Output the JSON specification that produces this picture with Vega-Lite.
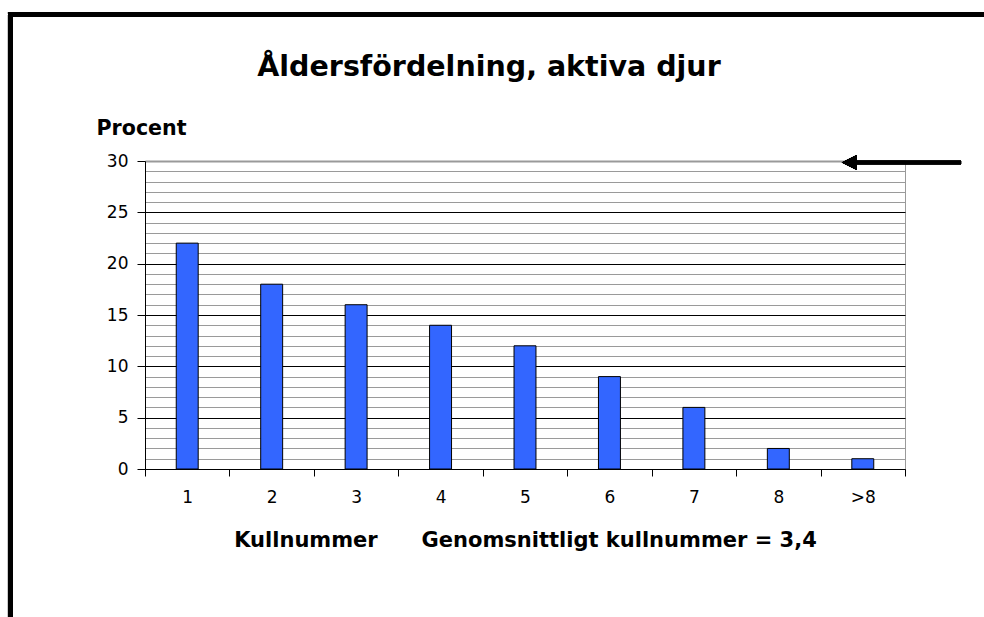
{
  "$schema": "https://vega.github.io/schema/vega-lite/v6.json",
  "width": 760,
  "height": 308,
  "autosize": {"type": "none"},
  "padding": {"left": 145, "top": 161, "right": 79, "bottom": 148},
  "background": "white",
  "title": {
    "text": "Åldersfördelning, aktiva djur",
    "font": "DejaVu Sans",
    "fontSize": 28.5,
    "fontWeight": "bold",
    "color": "black",
    "anchor": "middle",
    "frame": "group",
    "baseline": "alphabetic",
    "dx": -36,
    "offset": -93
  },
  "data": {
    "values": [
      {"kull": "1", "procent": 22},
      {"kull": "2", "procent": 18},
      {"kull": "3", "procent": 16},
      {"kull": "4", "procent": 14},
      {"kull": "5", "procent": 12},
      {"kull": "6", "procent": 9},
      {"kull": "7", "procent": 6},
      {"kull": "8", "procent": 2},
      {"kull": ">8", "procent": 1}
    ]
  },
  "layer": [
    {
      "mark": {"type": "bar", "width": {"band": 0.26}, "fill": "#3366FF", "stroke": "black", "strokeWidth": 1},
      "encoding": {
        "x": {
          "field": "kull",
          "type": "nominal",
          "sort": null,
          "scale": {"paddingInner": 0, "paddingOuter": 0},
          "axis": {
            "title": "Kullnummer\u00a0\u00a0\u00a0\u00a0\u00a0\u00a0Genomsnittligt kullnummer = 3,4",
            "titleFont": "DejaVu Sans",
            "titleFontSize": 21,
            "titleFontWeight": "bold",
            "titleColor": "black",
            "titlePadding": 24,
            "labelAngle": 0,
            "labelFont": "DejaVu Sans",
            "labelFontSize": 17,
            "labelColor": "black",
            "labelPadding": 13,
            "tickBand": "extent",
            "tickSize": 7,
            "tickColor": "black",
            "domainColor": "black",
            "grid": false
          }
        },
        "y": {
          "field": "procent",
          "type": "quantitative",
          "scale": {"domain": [0, 30], "nice": false},
          "axis": {
            "values": [0,1,2,3,4,5,6,7,8,9,10,11,12,13,14,15,16,17,18,19,20,21,22,23,24,25,26,27,28,29,30],
            "labelExpr": "datum.value % 5 === 0 ? datum.label : ''",
            "labelFont": "DejaVu Sans",
            "labelFontSize": 17,
            "labelColor": "black",
            "labelPadding": 9,
            "labelBaseline": "middle",
            "tickSize": 8,
            "tickColor": "black",
            "tickOpacity": {"condition": {"test": "datum.value % 5 === 0", "value": 1}, "value": 0},
            "domainColor": "black",
            "grid": true,
            "gridColor": {"condition": {"test": "datum.value % 5 === 0 && datum.value < 30", "value": "black"}, "value": "#9a9a9a"},
            "gridWidth": {"condition": {"test": "datum.value === 30", "value": 2}, "value": 1},
            "gridOpacity": 1,
            "title": "Procent",
            "titleAngle": 0,
            "titleAlign": "left",
            "titleBaseline": "alphabetic",
            "titleX": -49,
            "titleY": -27,
            "titleFont": "DejaVu Sans",
            "titleFontSize": 20.6,
            "titleFontWeight": "bold",
            "titleColor": "black"
          }
        }
      }
    },
    {
      "mark": {"type": "rect", "filled": false, "stroke": "black", "strokeWidth": 5, "clip": false},
      "encoding": {
        "x": {"datum": -1.593, "type": "quantitative", "scale": {"domain": [0, 9], "nice": false, "zero": false}, "axis": null},
        "x2": {"datum": 10.5},
        "y": {"datum": 44.27, "type": "quantitative", "scale": {"domain": [0, 30], "nice": false, "zero": false}, "axis": null},
        "y2": {"datum": -20}
      }
    },
    {
      "mark": {"type": "rule", "stroke": "black", "strokeWidth": 3.5, "clip": false},
      "encoding": {
        "x": {"datum": 8.34, "type": "quantitative", "scale": {"domain": [0, 9], "nice": false, "zero": false}, "axis": null},
        "x2": {"datum": 9.664},
        "y": {"datum": 29.85, "type": "quantitative", "scale": {"domain": [0, 30], "nice": false, "zero": false}, "axis": null}
      }
    },
    {
      "mark": {"type": "point", "shape": "M-1,0L1,-1L1,1Z", "size": 225, "filled": true, "fill": "black", "opacity": 1, "strokeWidth": 0, "clip": false},
      "encoding": {
        "x": {"datum": 8.34, "type": "quantitative", "scale": {"domain": [0, 9], "nice": false, "zero": false}, "axis": null},
        "y": {"datum": 29.85, "type": "quantitative", "scale": {"domain": [0, 30], "nice": false, "zero": false}, "axis": null}
      }
    }
  ],
  "resolve": {"scale": {"x": "independent", "y": "independent"}, "axis": {"x": "independent", "y": "independent"}},
  "config": {
    "view": {"stroke": "#9a9a9a", "strokeWidth": 1},
    "font": "DejaVu Sans"
  }
}
